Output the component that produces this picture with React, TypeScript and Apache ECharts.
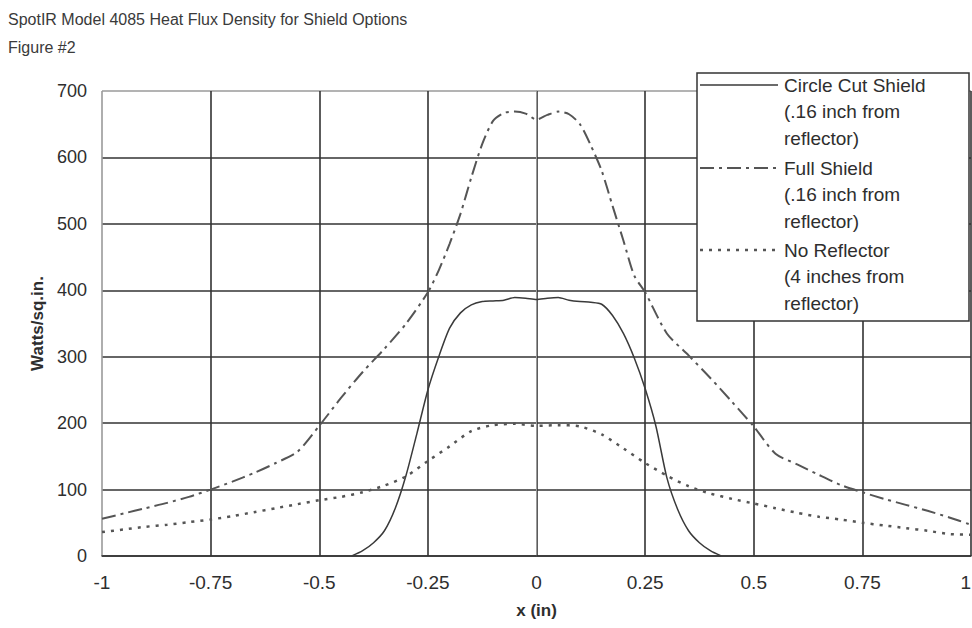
import React, { useEffect, useRef } from "react";
import * as echarts from "echarts";

const TITLE = "SpotIR Model 4085 Heat Flux Density for Shield Options";
const SUBTITLE = "Figure #2";
const X_NAME = "x (in)";
const Y_NAME = "Watts/sq.in.";

const SERIES_NAMES = ["Circle Cut Shield", "Full Shield", "No Reflector"];
const LEGEND_LABELS = [
  "Circle Cut Shield\n(.16 inch from\nreflector)",
  "Full Shield\n(.16 inch from\nreflector)",
  "No Reflector\n(4 inches from\nreflector)",
];

const X_TICKS = [-1, -0.75, -0.5, -0.25, 0, 0.25, 0.5, 0.75, 1];

const cutX = [-0.425, -0.4, -0.375, -0.35, -0.325, -0.3, -0.275, -0.25, -0.225, -0.2, -0.175, -0.15, -0.125, -0.1, -0.075, -0.05, -0.025, 0, 0.025, 0.05, 0.075, 0.1, 0.125, 0.15, 0.175, 0.2, 0.225, 0.25, 0.275, 0.3, 0.325, 0.35, 0.375, 0.4, 0.425];
const cutY = [0, 8, 20, 38, 72, 122, 185, 250, 300, 343, 366, 378, 383, 384, 385, 389, 388, 386, 388, 389, 385, 383, 382, 379, 362, 335, 298, 252, 195, 118, 70, 38, 20, 8, 0];

const fullX = [-1, -0.95, -0.9, -0.85, -0.8, -0.75, -0.7, -0.65, -0.6, -0.55, -0.5, -0.45, -0.4, -0.35, -0.3, -0.25, -0.225, -0.2, -0.175, -0.15, -0.125, -0.1, -0.075, -0.05, -0.025, 0, 0.025, 0.05, 0.075, 0.1, 0.125, 0.15, 0.175, 0.2, 0.225, 0.25, 0.3, 0.35, 0.4, 0.45, 0.5, 0.55, 0.6, 0.65, 0.7, 0.75, 0.8, 0.85, 0.9, 0.95, 1];
const fullY = [56, 64, 72, 80, 89, 100, 112, 125, 140, 157, 196, 238, 277, 312, 350, 397, 430, 470, 515, 570, 620, 655, 667, 669, 666, 657, 664, 669, 665, 650, 618, 580, 527, 475, 422, 397, 335, 302, 268, 232, 195, 154, 138, 122, 107, 96, 86, 77, 68, 58, 47];

const noRefX = [-1, -0.95, -0.9, -0.85, -0.8, -0.75, -0.7, -0.65, -0.6, -0.55, -0.5, -0.45, -0.4, -0.35, -0.3, -0.25, -0.2, -0.15, -0.1, -0.05, 0, 0.05, 0.1, 0.15, 0.2, 0.25, 0.3, 0.35, 0.4, 0.45, 0.5, 0.55, 0.6, 0.65, 0.7, 0.75, 0.8, 0.85, 0.9, 0.95, 1];
const noRefY = [36, 40, 44, 47, 51, 55, 60, 66, 72, 78, 84, 89, 96, 106, 120, 143, 165, 188, 197, 199, 196, 197, 195, 183, 162, 140, 121, 105, 94, 86, 79, 72, 65, 59, 55, 50, 46, 42, 38, 33, 32];

const FONT = "'Liberation Sans', Arial, Helvetica, sans-serif";
const INK = "#2e2e2e";

function pairs(xs: number[], ys: number[]) {
  return xs.map((x, i) => [x, ys[i]]);
}

export default function App() {
  const ref = useRef<HTMLDivElement>(null);

  useEffect(() => {
    if (!ref.current) return;
    const chart = echarts.init(ref.current, undefined, { renderer: "svg" });
    const xSplitColors = X_TICKS.map((_, i) => (i === 0 ? "#9a9a9a" : "#333"));
    const ySplitColors = [0, 1, 2, 3, 4, 5, 6, 7].map((i) => (i === 7 ? "#9a9a9a" : "#333"));

    const legendRows = [85, 168, 250];
    const legendDash: (number[] | null)[] = [null, [14, 5, 3, 5], [3, 6]];
    const legendWidth = [1.5, 2, 2.5];

    chart.setOption({
      animation: false,
      backgroundColor: "#fff",
      textStyle: { fontFamily: FONT },
      grid: {
        left: 102,
        right: 1,
        top: 91,
        bottom: 72,
        containLabel: false,
        outerBoundsMode: "none",
      },
      xAxis: {
        type: "value",
        min: -1,
        max: 1,
        interval: 0.25,
        name: X_NAME,
        nameLocation: "middle",
        nameGap: 46,
        nameTextStyle: { fontFamily: FONT, fontSize: 17, fontWeight: "bold", color: INK },
        axisLine: { show: true, lineStyle: { color: "#333", width: 1.5 } },
        axisTick: { show: false },
        axisLabel: {
          fontFamily: FONT,
          fontSize: 19,
          color: INK,
          margin: 17,
          alignMaxLabel: "right",
          formatter: (v: number) => String(v),
        },
        splitLine: { show: true, lineStyle: { color: xSplitColors, width: 1.6 } },
      },
      yAxis: {
        type: "value",
        min: 0,
        max: 700,
        interval: 100,
        name: Y_NAME,
        nameLocation: "middle",
        nameGap: 54,
        nameRotate: 90,
        nameTextStyle: { fontFamily: FONT, fontSize: 17, fontWeight: "bold", color: INK },
        axisLine: { show: true, lineStyle: { color: "#9a9a9a", width: 1 } },
        axisTick: { show: false },
        axisLabel: { fontFamily: FONT, fontSize: 18, color: INK, margin: 15 },
        splitLine: { show: true, lineStyle: { color: ySplitColors, width: 1.6 } },
      },
      series: [
        {
          name: SERIES_NAMES[0],
          type: "line",
          data: pairs(cutX, cutY),
          showSymbol: false,
          smooth: 0.25,
          lineStyle: { color: "#3a3a3a", width: 1.5, type: "solid" },
          z: 3,
        },
        {
          name: SERIES_NAMES[1],
          type: "line",
          data: pairs(fullX, fullY),
          showSymbol: false,
          smooth: 0.25,
          lineStyle: { color: "#555", width: 2, type: [14, 5, 3, 5] },
          z: 3,
        },
        {
          name: SERIES_NAMES[2],
          type: "line",
          data: pairs(noRefX, noRefY),
          showSymbol: false,
          smooth: 0.25,
          lineStyle: { color: "#555", width: 2.5, type: [3, 6] },
          z: 3,
        },
      ],
      graphic: {
        elements: [
          {
            type: "text",
            left: 8,
            top: 11,
            style: { text: TITLE, fontFamily: FONT, fontSize: 16, fill: "#3a3a3a" },
          },
          {
            type: "text",
            left: 8,
            top: 39,
            style: { text: SUBTITLE, fontFamily: FONT, fontSize: 16, fill: "#3a3a3a" },
          },
          {
            type: "rect",
            z: 100,
            shape: { x: 697, y: 73, width: 272, height: 248 },
            style: { fill: "#fff", stroke: "#333", lineWidth: 1.5 },
          },
          ...legendRows.map((y, i) => ({
            type: "line",
            z: 101,
            shape: { x1: 700, y1: y, x2: 778, y2: y },
            style: {
              stroke: i === 0 ? "#3a3a3a" : "#555",
              lineWidth: legendWidth[i],
              lineDash: legendDash[i] || undefined,
            },
          })),
          ...legendRows.map((y, i) => ({
            type: "text",
            z: 101,
            x: 784,
            y: y - 13,
            style: {
              text: LEGEND_LABELS[i],
              fontFamily: FONT,
              fontSize: 19,
              lineHeight: 26.5,
              fill: INK,
              verticalAlign: "top",
            },
          })),
        ],
      },
    });
    return () => chart.dispose();
  }, []);

  return (
    <div
      ref={ref}
      style={{ position: "absolute", left: 0, top: 0, width: 972, height: 628 }}
    />
  );
}
